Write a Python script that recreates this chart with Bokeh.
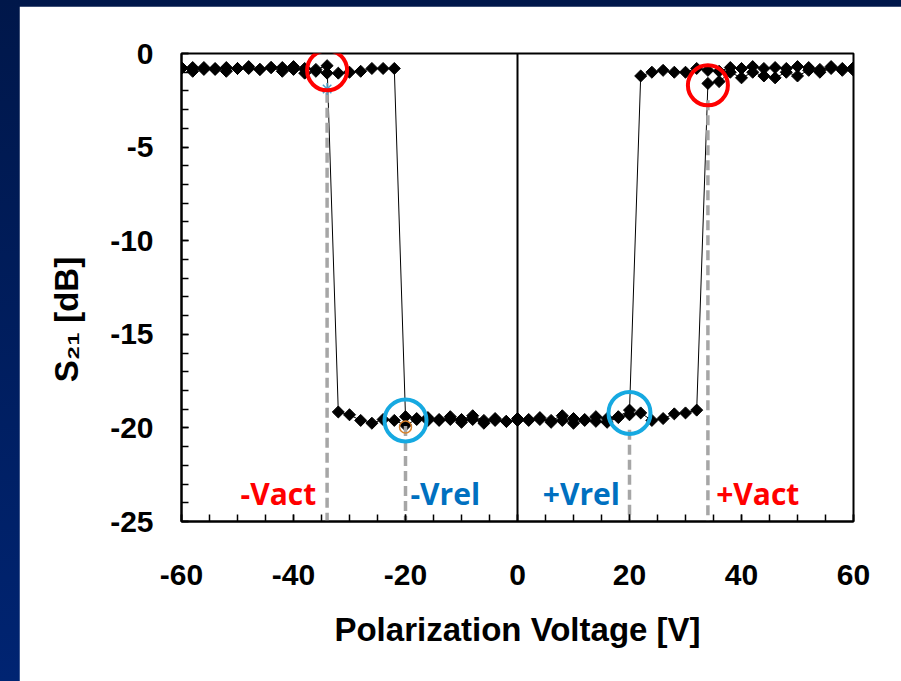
from bokeh.plotting import figure
from bokeh.models import SingleIntervalTicker, Span, Range1d, CustomJSTickFormatter
from bokeh.layouts import column
from bokeh.embed import file_html
from bokeh.resources import INLINE
from bokeh.core.properties import value
import math

# ---------------- data ----------------
voltage = [-60, -58, -56, -54, -52, -50, -48, -46, -44, -42, -40, -38, -36, -34, -32,
           -30, -28, -26, -24, -22, -20, -18, -16, -14, -12, -10, -8, -6, -4, -2,
           0, 2, 4, 6, 8, 10, 12, 14, 16, 18, 20, 22, 24, 26, 28, 30,
           32, 34, 36, 38, 40, 42, 44, 46, 48, 50, 52, 54, 56, 58, 60]

# sweep with increasing voltage (-60 V -> +60 V)
s21_sweep_up = [-0.75, -0.95, -0.75, -0.8, -0.95, -0.8, -0.8, -0.85, -0.75, -0.95,
                -0.7, -1.05, -0.95, -1.05, -1.05, -1.0, -0.95, -0.8, -0.8, -0.8,
                -19.4, -19.5, -19.6, -19.6, -19.55, -19.7, -19.55, -19.75, -19.6, -19.65,
                -19.6,
                -19.6, -19.55, -19.7, -19.6, -19.75, -19.6, -19.65, -19.7, -19.45, -19.3,
                -19.2, -19.6, -19.5, -19.25, -19.2, -19.05,
                -1.6, -1.5, -1.0, -1.3, -1.0, -1.2, -1.3, -1.0, -1.2, -0.9, -1.0, -0.8, -0.9, -0.9]

# sweep with decreasing voltage (+60 V -> -60 V), listed by ascending voltage
s21_sweep_down = [-0.8, -0.75, -0.85, -0.85, -0.75, -0.8, -0.7, -0.85, -0.75, -0.75,
                  -0.85, -0.8, -0.85, -0.65,
                  -19.15, -19.3, -19.6, -19.75, -19.55, -19.6, -19.85, -19.55, -19.45, -19.55,
                  -19.4, -19.55, -19.35, -19.6, -19.5, -19.65,
                  -19.5,
                  -19.55, -19.45, -19.6, -19.35, -19.5, -19.55, -19.4, -19.5, -19.4, -19.05,
                  -1.2, -1.0, -0.9, -1.0, -1.0, -0.8, -0.9, -0.95, -0.75, -0.8,
                  -0.7, -0.8, -0.75, -0.8, -0.7, -0.75, -0.85, -0.7, -0.8, -0.75]

# actuation / release markers
v_act = [-34, 34]
s21_act = [-0.9, -1.7]
v_rel = [-20, 20]
s21_rel = [-19.6, -19.2]
guide_x = [-34, -20, 20, 34]
guide_top = [-2.1, -19.9, -20.1, -2.5]
guide_labels = ["-Vact", "-Vrel", "+Vrel", "+Vact"]
guide_label_x = [-42.7, -12.9, 11.4, 42.9]
guide_label_colors = ["#ff0000", "#0070c0", "#0070c0", "#ff0000"]

x_ticks_interval = 20
y_ticks_interval = 5

# ---------------- figure ----------------
p = figure(width=882, height=675,
           x_range=Range1d(-60, 60), y_range=Range1d(-25, 0),
           output_backend="svg", toolbar_location=None,
           min_border_left=162, min_border_right=48,
           min_border_top=47, min_border_bottom=160)
p.margin = (6, 0, 0, 19)
p.background_fill_color = "white"
p.border_fill_color = "white"
p.outline_line_color = "black"
p.outline_line_width = 2
p.grid.visible = False

tick_font = "Liberation Sans"
fmt = CustomJSTickFormatter(code="return String(Math.round(tick));")
for ax in (p.xaxis[0], p.yaxis[0]):
    ax.formatter = fmt
    ax.axis_line_color = "black"
    ax.axis_line_width = 2
    ax.major_tick_in = 7
    ax.major_tick_out = 0
    ax.minor_tick_in = 7
    ax.minor_tick_out = 0
    ax.major_tick_line_color = "black"
    ax.minor_tick_line_color = "black"
    ax.major_tick_line_width = 1.5
    ax.minor_tick_line_width = 1.5
    ax.major_label_text_font = tick_font
    ax.major_label_text_font_style = "bold"
    ax.major_label_text_font_size = "30px"
    ax.major_label_text_color = "black"
    ax.axis_label_text_font = tick_font
    ax.axis_label_text_font_style = "bold"
    ax.axis_label_text_font_size = "33px"
    ax.axis_label_text_color = "black"

p.xaxis[0].ticker = SingleIntervalTicker(interval=x_ticks_interval, num_minor_ticks=4)
p.yaxis[0].ticker = SingleIntervalTicker(interval=y_ticks_interval, num_minor_ticks=5)
p.xaxis[0].major_label_standoff = 43
p.yaxis[0].major_label_standoff = 28

p.xaxis[0].axis_label = "Polarization Voltage [V]"
p.xaxis[0].axis_label_standoff = 23
# trailing no-break spaces shift the visible title toward the lower part of the axis
p.yaxis[0].axis_label = "S\u2082\u2081 [dB]" + "\u00a0" * 7
p.yaxis[0].axis_label_standoff = 22

# zero line
p.add_layout(Span(location=0, dimension="height", line_color="black", line_width=2))

# data
p.line(voltage, s21_sweep_up, line_color="black", line_width=1)
p.line(voltage, s21_sweep_down, line_color="black", line_width=1)
p.scatter(voltage, s21_sweep_up, marker="square", angle=math.pi / 4, size=8.5, color="black")
p.scatter(voltage, s21_sweep_down, marker="square", angle=math.pi / 4, size=8.5, color="black")

# guide lines
p.segment(x0=guide_x, y0=guide_top, x1=guide_x, y1=[-25] * 4,
          line_color="#a6a6a6", line_width=3.5, line_dash="10 5")
p.scatter([-34], [-1.9], marker="asterisk", size=12, line_color="#4f9fc8", line_width=1.5)

# circles
p.scatter(v_act, s21_act, marker="circle", size=40, fill_alpha=0,
          line_color="#ff0000", line_width=4)
p.scatter(v_rel, s21_rel, marker="circle", size=42, fill_alpha=0,
          line_color="#16a9e1", line_width=4)
p.scatter([-20], [-19.95], marker="circle", size=12, fill_alpha=0,
          line_color="#d9822b", line_width=1.5)

# labels
p.text(x=guide_label_x, y=[-23.5] * 4, text=guide_labels, text_color=guide_label_colors,
       text_font=value("Open Sans"), text_font_style="bold", text_font_size="30px",
       text_align="center", text_baseline="alphabetic")

layout = column(p, styles={"background": "linear-gradient(180deg, #00174a 0%, #002472 100%)"})

open("out.html", "w").write(file_html(layout, INLINE))
